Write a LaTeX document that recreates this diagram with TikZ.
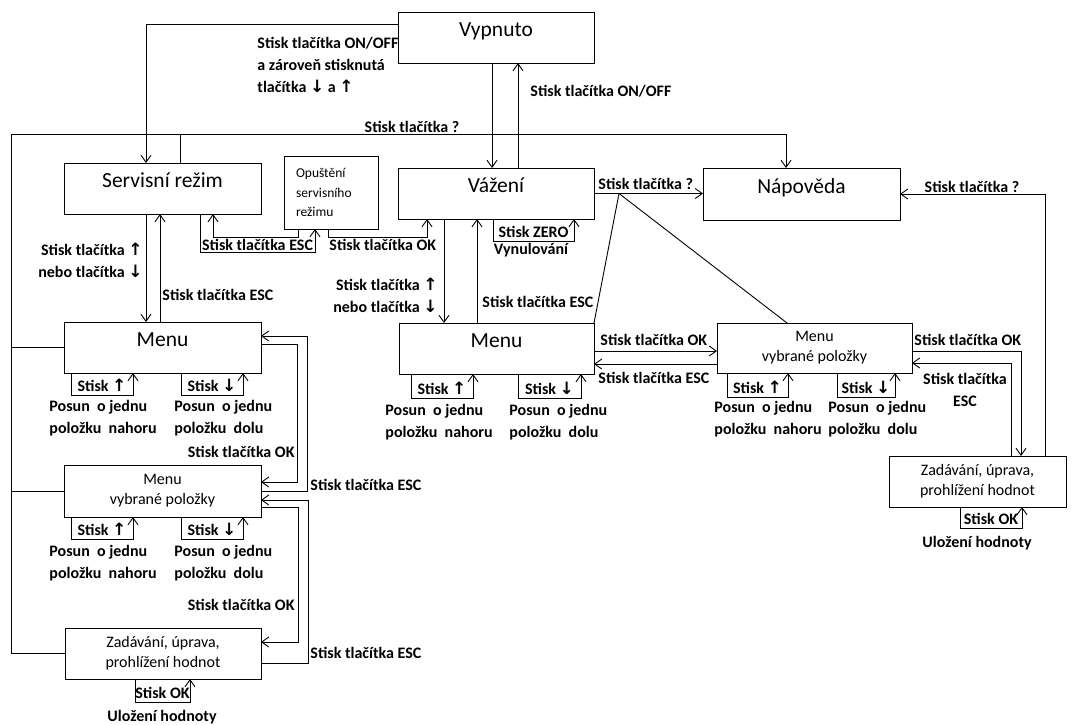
\documentclass[tikz,border=0pt]{standalone}
\usepackage{fontspec}
\setmainfont{Carlito}
\newfontfamily\symfont{DejaVu Sans}
\newcommand{\arup}{{\symfont\bfseries\fontsize{17}{22}\selectfont ↑}}
\newcommand{\ardn}{{\symfont\bfseries\fontsize{17}{22}\selectfont ↓}}
\usetikzlibrary{arrows.meta}
\begin{document}
\begin{tikzpicture}
[x=1pt, y=-1pt, line width=0.9pt,
 state/.style={draw,rectangle,inner sep=0pt,outer sep=0pt,minimum width=196pt,minimum height=51pt},
 big/.style={state,font=\fontsize{21.5}{24}\selectfont,text height=14pt,text depth=16pt},
 two/.style={state,font=\fontsize{16}{20}\selectfont,align=center},
 lbl/.style={font=\bfseries\fontsize{16}{22}\selectfont,inner sep=0pt,align=left},
 arr/.style={-{Straight Barb[length=7pt,width=10pt]}}]
\useasboundingbox (0,0) rectangle (1073,724);
% stavy
\node(vyp) at (496,37.5)[big]{Vypnuto};
\node(vaz) at (496,193.5)[big]{Vážení};
\node(nap) at (801.5,194)[big,minimum width=197pt,minimum height=52pt]{Nápověda};
\node(serv) at (162.5,188.5)[big,minimum width=197pt]{Servisní režim};
\node(opu) at (331,192.5)[state,minimum width=94pt,minimum height=73pt,text width=70pt,align=left,font=\fontsize{13.5}{19.5}\selectfont]{Opuštění\\servisního\\režimu};
\node(menu) at (162.5,347.5)[big,minimum width=197pt]{Menu};
\node(mvyb) at (162.5,491)[two,minimum width=197pt,minimum height=52pt]{Menu\\vybrané položky};
\node(zad) at (163,653.5)[two]{Zadávání, úprava,\\prohlížení hodnot};
\node(menu2) at (496.5,348.5)[big,minimum width=195pt]{Menu};
\node(mvyb2) at (814.5,348)[two,minimum width=195pt,minimum height=50pt]{Menu\\vybrané položky};
\node(zad2) at (977.5,481.5)[two,minimum width=177pt]{Zadávání, úprava,\\prohlížení hodnot};
% vypnuto
\draw[arr] ([yshift=13.5pt]vyp.west) -| ([xshift=-16.5pt]serv.north);
\node(l1) at (257,64.5)[lbl,anchor=west]{Stisk tlačítka ON/OFF\\a zároveň stisknutá\\tlačítka \ardn{} a \arup};
\draw[arr] ([xshift=-4pt]vyp.south) -- ([xshift=-4pt]vaz.north);
\draw[arr] ([xshift=22pt]vaz.north) -- ([xshift=22pt]vyp.south);
\node(l2) at (530,91)[lbl,anchor=west]{Stisk tlačítka ON/OFF};
% napoveda
\coordinate(q) at (11,134);
\draw[arr] (q) -| ([xshift=-15.5pt]nap.north);
\draw ([xshift=17.5pt]serv.north) -- ([xshift=17.5pt]serv.north |- q);
\draw (q) |- (zad.west);
\draw (menu.west) -- (menu.west -| q);
\draw (mvyb.west) -- (mvyb.west -| q);
\node(l3) at (412,127)[lbl]{Stisk tlačítka ?};
\draw[arr] (vaz.east) -- (vaz.east -| nap.west);
\node(l4) at (598,184)[lbl,anchor=west]{Stisk tlačítka ?};
\coordinate(qv) at (619,193.5);
\draw (qv) -- (menu2.north east);
\draw (qv) -- ([xshift=-27.5pt]mvyb2.north);
\draw[arr] ([xshift=67.5pt]zad2.north) |- (nap.east);
\node(l5) at (972,187)[lbl]{Stisk tlačítka ?};
% vazeni
\draw[arr] ([xshift=-3pt]vaz.south) -- ++(0,22) -| ([xshift=78pt]vaz.south) node(zero)[pos=0.25,lbl,above=3pt]{Stisk ZERO};
\node(vynul) at (531,250)[lbl]{Vynulování};
\draw[arr] ([xshift=-3pt]opu.south) -- ++(0,8) -| ([xshift=-69pt]vaz.south);
\node(l6) at (329,245)[lbl,anchor=west]{Stisk tlačítka OK};
\draw[arr] ([xshift=-33pt]opu.south) -- ++(0,8) -| ([xshift=50.5pt]serv.south);
\draw[arr] ([xshift=37.5pt]serv.south) -- ++(0,38) -| ([xshift=-16pt]opu.south);
\node(l7) at (257.5,245)[lbl]{Stisk tlačítka ESC};
\draw[arr] ([xshift=-52pt]vaz.south) -- ([xshift=-52pt]vaz.south |- menu2.north);
\draw[arr] ([xshift=-19pt]vaz.south |- menu2.north) -- ([xshift=-19pt]vaz.south);
\node(l8) at (438,295)[lbl,anchor=east,align=right]{Stisk tlačítka \arup\\nebo tlačítka \ardn};
\node(l9) at (482,302)[lbl,anchor=west]{Stisk tlačítka ESC};
% servisni rezim
\draw[arr] ([xshift=-16.5pt]serv.south) -- ([xshift=-16.5pt]menu.north);
\draw[arr] ([xshift=-2.5pt]menu.north) -- ([xshift=-2.5pt]serv.south);
\node(l10) at (143,260.5)[lbl,anchor=east,align=right]{Stisk tlačítka \arup\\nebo tlačítka \ardn};
\node(l11) at (162,295)[lbl,anchor=west]{Stisk tlačítka ESC};
% menu vlevo
\draw[arr] ([xshift=-91.5pt]menu.south) -- ++(0,22) -| ([xshift=-29.5pt]menu.south) node(mu)[pos=0.25,lbl,above=3pt]{Stisk \arup};
\draw[arr] ([xshift=18.5pt]menu.south) -- ++(0,22) -| ([xshift=80.5pt]menu.south) node(md)[pos=0.25,lbl,above=3pt]{Stisk \ardn};
\node(mut) at (49,418.5)[lbl,anchor=west]{Posun~ o jednu\\položku~ nahoru};
\node(mdt) at (174,418.5)[lbl,anchor=west]{Posun~ o jednu\\položku~ dolu};
\draw[arr] ([yshift=3.5pt]menu.east) -- ++(36,0) |- ([yshift=9pt]mvyb.east);
\draw[arr] (mvyb.east) -- ++(46,0) |- ([yshift=11.5pt]menu.east);
\node(l12) at (295,452)[lbl,anchor=east]{Stisk tlačítka OK};
\node(l13) at (310,485)[lbl,anchor=west]{Stisk tlačítka ESC};
\draw[arr] ([xshift=-91.5pt]mvyb.south) -- ++(0,22) -| ([xshift=-29.5pt]mvyb.south) node(vu)[pos=0.25,lbl,above=3pt]{Stisk \arup};
\draw[arr] ([xshift=18.5pt]mvyb.south) -- ++(0,22) -| ([xshift=80.5pt]mvyb.south) node(vd)[pos=0.25,lbl,above=3pt]{Stisk \ardn};
\node(vut) at (49,563)[lbl,anchor=west]{Posun~ o jednu\\položku~ nahoru};
\node(vdt) at (174,563)[lbl,anchor=west]{Posun~ o jednu\\položku~ dolu};
\draw[arr] ([yshift=-16pt]mvyb.east) -- ++(37,0) |- ([yshift=11.5pt]zad.east);
\draw[arr] ([yshift=-9.5pt]zad.east) -- ++(47,0) |- ([yshift=-9pt]mvyb.east);
\node(l14) at (295,605)[lbl,anchor=east]{Stisk tlačítka OK};
\node(l15) at (310,653)[lbl,anchor=west]{Stisk tlačítka ESC};
\draw[arr] ([xshift=-28pt]zad.south) -- ++(0,23) -| ([xshift=27pt]zad.south) node(zok)[pos=0.25,lbl,above=3pt]{Stisk OK};
\node(zul) at (162,717)[lbl]{Uložení hodnoty};
% menu vpravo
\draw[arr] ([xshift=-85.5pt]menu2.south) -- ++(0,24) -| ([xshift=-23.5pt]menu2.south) node(mu2)[pos=0.25,lbl,above=3pt]{Stisk \arup};
\draw[arr] ([xshift=21.5pt]menu2.south) -- ++(0,24) -| ([xshift=84.5pt]menu2.south) node(md2)[pos=0.25,lbl,above=3pt]{Stisk \ardn};
\node(mut2) at (385,422)[lbl,anchor=west]{Posun~ o jednu\\položku~ nahoru};
\node(mdt2) at (509,422)[lbl,anchor=west]{Posun~ o jednu\\položku~ dolu};
\draw[arr] ([yshift=-2.5pt]menu2.east) -- ([yshift=-2.5pt]menu2.east -| mvyb2.west);
\draw[arr] ([yshift=-15.5pt]menu2.east -| mvyb2.west) -- ([yshift=-15.5pt]menu2.east);
\node(l16) at (600,340)[lbl,anchor=west]{Stisk tlačítka OK};
\node(l17) at (598,378)[lbl,anchor=west]{Stisk tlačítka ESC};
\draw[arr] ([xshift=-87.5pt]mvyb2.south) -- ++(0,24) -| ([xshift=-26.5pt]mvyb2.south) node(vu2)[pos=0.25,lbl,above=3pt]{Stisk \arup};
\draw[arr] ([xshift=22.5pt]mvyb2.south) -- ++(0,24) -| ([xshift=80.5pt]mvyb2.south) node(vd2)[pos=0.25,lbl,above=3pt]{Stisk \ardn};
\node(vut2) at (714,419.5)[lbl,anchor=west]{Posun~ o jednu\\položku~ nahoru};
\node(vdt2) at (828,419.5)[lbl,anchor=west]{Posun~ o jednu\\položku~ dolu};
\draw[arr] ([yshift=-3pt]mvyb2.east) -| ([xshift=43.5pt]zad2.north);
\draw[arr] ([xshift=33.5pt]zad2.north) |- ([yshift=-15pt]mvyb2.east);
\node(l18) at (914,340)[lbl,anchor=west]{Stisk tlačítka OK};
\node(l19) at (965,389.5)[lbl,align=center]{Stisk tlačítka\\ESC};
\draw[arr] ([xshift=-17.5pt]zad2.south) -- ++(0,21) -| ([xshift=44.5pt]zad2.south) node(zok2)[pos=0.25,lbl,above=3pt]{Stisk OK};
\node(zul2) at (977,543)[lbl]{Uložení hodnoty};
\end{tikzpicture}
\end{document}
